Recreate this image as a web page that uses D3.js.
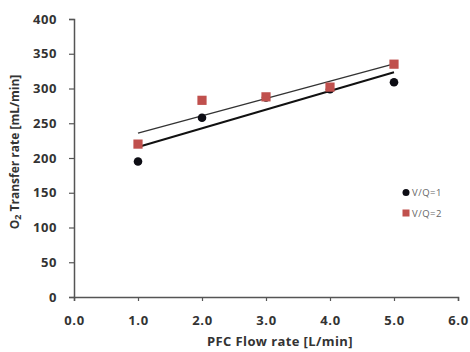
<!DOCTYPE html>
<html><head><meta charset="utf-8">
<script src="https://cdn.jsdelivr.net/npm/d3@7"></script>
<style>body{margin:0;background:#fff}</style></head>
<body><svg id="c" width="470" height="352"></svg>
<script>
const flowRates = [1, 2, 3, 4, 5];
const seriesVQ1 = [195, 258, 287, 299, 309];
const seriesVQ2 = [220, 283, 288, 302, 335];
const seriesNames = ["V/Q=1", "V/Q=2"];
const xTicks = [0, 1, 2, 3, 4, 5, 6];
const yTicks = [0, 50, 100, 150, 200, 250, 300, 350, 400];

const svg = d3.select("#c");
const font = "'Open Sans', sans-serif";
const x = d3.scaleLinear().domain([0, 6]).range([74, 458]);
const y = d3.scaleLinear().domain([0, 400]).range([297, 19]);

function fit(xs, ys) {
  const mx = d3.mean(xs), my = d3.mean(ys);
  const b = d3.sum(xs, (v, i) => (v - mx) * (ys[i] - my)) / d3.sum(xs, v => (v - mx) ** 2);
  return [b, my - b * mx];
}

// axes
const ax = svg.append("g").attr("transform", `translate(0,${y(0)})`)
  .call(d3.axisBottom(x).tickValues(xTicks).tickFormat(d3.format(".1f")).tickSize(4));
const ay = svg.append("g").attr("transform", `translate(${x(0)},0)`)
  .call(d3.axisLeft(y).tickValues(yTicks).tickSize(5).tickPadding(12));
[ax, ay].forEach(g => {
  g.select(".domain").attr("stroke", "#555").attr("stroke-width", 1.5);
  g.selectAll(".tick line").attr("stroke", "#555").attr("stroke-width", 1.2);
  g.selectAll(".tick text").attr("fill", "#333").attr("font-family", font)
    .attr("font-size", 13).attr("font-weight", "bold").attr("letter-spacing", 0.6);
});
ax.selectAll(".tick text").attr("y", 28).attr("dy", 0);

// trend lines
const trends = [
  {ys: seriesVQ1, w: 2, c: "#111"},
  {ys: seriesVQ2, w: 1.4, c: "#333"}
];
trends.forEach(t => {
  const [b, a] = fit(flowRates, t.ys);
  const x0 = d3.min(flowRates), x1 = d3.max(flowRates);
  svg.append("line")
    .attr("x1", x(x0)).attr("y1", y(a + b * x0))
    .attr("x2", x(x1)).attr("y2", y(a + b * x1))
    .attr("stroke", t.c).attr("stroke-width", t.w);
});

// points
svg.append("g").selectAll("circle").data(flowRates).join("circle")
  .attr("cx", d => x(d)).attr("cy", (d, i) => y(seriesVQ1[i])).attr("r", 4.3)
  .attr("fill", "#0d0d14");
svg.append("g").selectAll("rect").data(flowRates).join("rect")
  .attr("x", d => x(d) - 4.6).attr("y", (d, i) => y(seriesVQ2[i]) - 4.6)
  .attr("width", 9.2).attr("height", 9.2).attr("fill", "#c0504d");

// legend
const lg = svg.append("g");
lg.append("circle").attr("cx", 406).attr("cy", 192.5).attr("r", 3.5).attr("fill", "#0d0d14");
lg.append("rect").attr("x", 402.5).attr("y", 209.5).attr("width", 7).attr("height", 7).attr("fill", "#c0504d");
seriesNames.forEach((n, i) => {
  lg.append("text").attr("x", 412).attr("y", 196 + i * 20.5).text(n)
    .attr("font-family", font).attr("font-size", 9.5).attr("letter-spacing", 0.5).attr("fill", "#666");
});

// axis titles
svg.append("text").attr("x", 280).attr("y", 346).attr("text-anchor", "middle")
  .attr("font-family", font).attr("font-size", 13).attr("font-weight", "bold").attr("fill", "#333")
  .attr("letter-spacing", 0.4)
  .text("PFC Flow rate [L/min]");
const yt = svg.append("text").attr("transform", "translate(19,152) rotate(-90)")
  .attr("text-anchor", "middle").attr("font-family", font).attr("font-size", 12)
  .attr("font-weight", "bold").attr("fill", "#333");
yt.append("tspan").text("O");
yt.append("tspan").attr("font-size", 9).attr("dy", 2).text("2");
yt.append("tspan").attr("dy", -2).text(" Transfer rate [mL/min]");
</script></body></html>
